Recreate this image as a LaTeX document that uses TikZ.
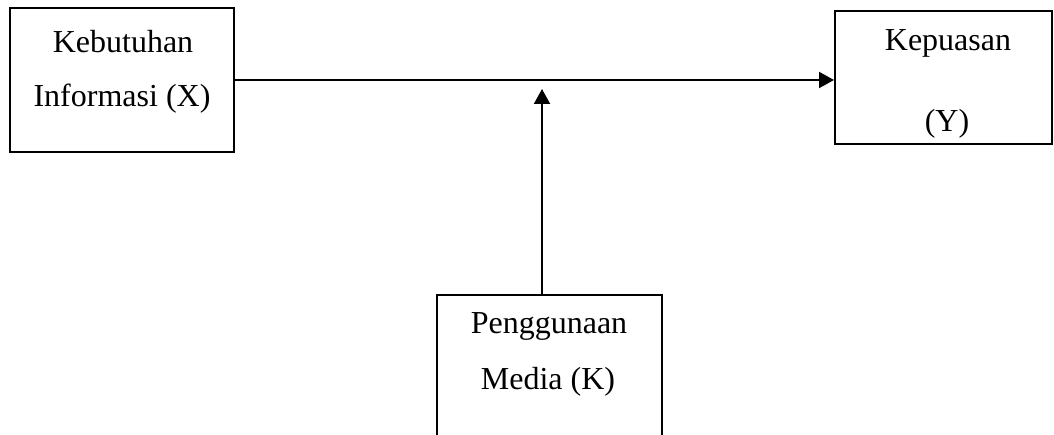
\documentclass[tikz,border=0pt]{standalone}
\usepackage{fontspec}
\setmainfont{Liberation Serif}
\usetikzlibrary{arrows.meta}
\begin{document}
\begin{tikzpicture}[x=1pt,y=1pt,
  box/.style={draw=black,line width=2pt,minimum width=#1,inner sep=0pt},
  lbl/.style={font=\fontsize{32}{32}\selectfont,inner sep=0pt,anchor=center},
  arr/.style={line width=2pt,-{Triangle[length=15pt,width=16pt]}}]
\useasboundingbox (0,0) rectangle (1054,434);
\clip (0,0) rectangle (1054,434);
% left box: x 10-234, y 8-152 (image)
\node[box=224pt,minimum height=144pt] (X) at (122,354) {};
% right box: x 835-1052, y 11-144
\node[box=217pt,minimum height=133pt] (Y) at (943.5,356.5) {};
% bottom box: x 437-662, top 295
\node[box=225pt,minimum height=160pt] (K) at (549.5,59) {};
\node[lbl] (tX1) at (123,392) {Kebutuhan};
\node[lbl] (tX2) at (122,335) {Informasi (X)};
\node[lbl] (tY1) at (948,391) {Kepuasan};
\node[lbl] (tY2) at (947,310) {(Y)};
\node[lbl] (tK1) at (549,108) {Penggunaan};
\node[lbl] (tK2) at (548,52) {Media (K)};
\coordinate (tip) at (542,345);
\draw[arr] (X.east) -- (X.east -| Y.west);
\draw[arr] (K.north -| tip) -- (tip);
\end{tikzpicture}
\end{document}
